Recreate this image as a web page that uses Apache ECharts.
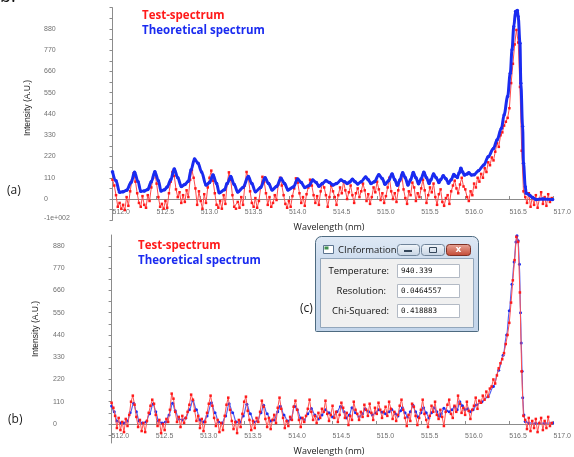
<!DOCTYPE html>
<html><head><meta charset="utf-8">
<script src="https://cdn.jsdelivr.net/npm/echarts@6/dist/echarts.min.js"></script>
<style>html,body{margin:0;padding:0;background:#fff}#c{width:574px;height:457px}</style>
</head><body><div id="c"></div>
<script>
// ---------- data ----------
const wlStart = 512.0, wlStep = 0.02;   // sampling grid of the measured spectrum (nm)

const testTop = [
 100, 70, 20, -40, -20,   -50, -30, -57, 10, -35,   40, 95, 133, 90, 30,   -20, -40, 15, -30, -45,
 20, -10, 60, 110, 133,   80, 10, -40, -25, -50,   -10, -45, 30, 90, 140,   120, 50, 10, 35, -20,
 20, -15, 45, 10, 100,    150, 110, 55, -30, 40,   -10, -50, 25, -20, 60,   110, 147, 95, 30, -30,
 -45, -10, -50, 20, -25,  80, 138, 100, 20, -40,   -50, -15, -45, 10, -30,  70, 140, 110, 40, -20,
 -40, 5, -45, -10, 60,    115, 90, 30, -30, 10,    -40, -20, 20, -5, 75,   110, 70, 20, -25, -45,
 -10, -40, 15, 55, 107,   85, 30, -20, 10, -35,    25, 60, 100, 70, 20,    -20, 15, -30, 40, 80,
 60, 20, -40, 10, 70,     40, 10, -30, 20, 60,     30, 90, 45, 0, 35,      70, 20, -20, 30, 55,
 10, 40, 80, 45, -10,     25, -25, 10, 60, 35,     90, 50, -5, 30, -20,    15, 60, 110, 40, 0,
 30, -15, 45, 95, 124,    50, 5, -25, 40, 20,      85, 60, -10, 30, 10,    55, 100, 45, -20, 20,
 60, 35, 80, 10, -30,     25, 50, -15, -35, 5,     20, -25, 40, 70, 95,    55, 30, 75, 110, 65,
 50, 10, -10, 40, 20,     80, 60, 110, 90, 130,    110, 160, 140, 190, 175, 215, 200, 245, 290, 270,
 330, 345, 380, 400, 420, 470, 600, 700, 800, 875, 810, 580, 250, 40, 10,  -20, 30, -40, 10, -30,
 20, -45, 0, 35, -25,     10, -35, 25, -15, 5
];

const theoryTop = [
 [512.00,141],[512.04,95],[512.08,35],[512.12,38],[512.16,45],[512.21,85],[512.25,138],[512.29,90],[512.32,40],[512.36,42],
 [512.40,50],[512.44,90],[512.48,141],[512.52,95],[512.55,42],[512.59,48],[512.62,62],[512.66,100],[512.70,155],[512.74,110],
 [512.78,65],[512.82,75],[512.86,92],[512.89,150],[512.93,207],[512.97,185],[513.01,140],[513.06,72],[513.10,85],[513.14,124],
 [513.18,80],[513.21,32],[513.27,48],[513.30,80],[513.34,116],[513.38,75],[513.42,36],[513.48,60],[513.54,116],[513.58,80],
 [513.62,38],[513.68,60],[513.73,110],[513.77,80],[513.81,47],[513.86,65],[513.91,107],[513.95,80],[513.99,47],[514.05,62],
 [514.10,104],[514.14,85],[514.18,60],[514.23,70],[514.27,98],[514.31,85],[514.34,66],[514.38,80],[514.42,95],[514.46,85],
 [514.50,72],[514.54,80],[514.59,98],[514.63,90],[514.66,81],[514.69,88],[514.72,102],[514.75,90],[514.78,78],[514.82,90],
 [514.87,114],[514.90,100],[514.93,80],[514.97,90],[515.02,126],[515.06,105],[515.09,76],[515.13,95],[515.17,130],[515.20,100],
 [515.23,71],[515.26,100],[515.29,136],[515.32,110],[515.35,72],[515.38,100],[515.41,137],[515.44,110],[515.47,79],[515.50,105],
 [515.53,139],[515.56,110],[515.59,80],[515.61,100],[515.64,130],[515.67,110],[515.70,86],[515.72,100],[515.75,120],[515.78,105],
 [515.81,82],[515.84,100],[515.87,127],[515.89,118],[515.91,112],[515.93,135],[515.95,159],[515.97,140],[515.99,124],[516.02,130],
 [516.04,136],[516.07,124],[516.10,126],[516.15,147],[516.21,176],[516.26,219],[516.32,262],[516.36,306],[516.41,366],[516.44,435],
 [516.48,530],[516.51,651],[516.53,772],[516.55,893],[516.57,970],[516.59,975],[516.60,944],[516.62,806],[516.63,599],[516.65,375],
 [516.66,185],[516.68,64],[516.69,30],[516.73,20],[516.76,8],[516.80,-2],[516.88,0],[516.99,-3]
];

const testBottom = [
 105, 80, 40, -20, 30,    -30, 10, -40, 25, -10,   45, 110, 140, 95, 35,   -15, 20, -35, 5, -40,
 15, 55, 90, 120, 100,    45, -10, 20, -45, 0,     -30, 25, 10, 70, 150,   125, 60, 10, 35, -15,
 40, 5, 30, 60, 95,       145, 120, 65, 15, 40,    -20, 25, -35, 10, 55,   100, 140, 90, 30, -10,
 20, -40, 5, -30, 40,     95, 130, 70, 15, -25,    10, -45, 20, -15, 50,   110, 135, 65, 20, -30,
 15, -20, 30, 10, 60,     115, 85, 25, -15, 30,    -25, 20, 45, 5, 80,     130, 75, 30, -20, 15,
 -10, 35, 20, 85, 115,    70, 20, -15, 30, 10,     40, 75, 120, 60, 20,    40, 5, 55, 30, 75,
 60, 115, 50, 15, 45,     90, 30, 60, 10, 45,      105, 80, 30, 55, -5,    40, 20, 110, 70, 50,
 20, 60, 35, 95, 70,      40, 100, 55, 20, 80,     50, 105, 70, 30, 60,    85, 40, 110, 75, 25,
 60, 15, 45, 90, 120,     70, 30, -10, 45, 15,     100, 85, 40, -5, 30,    70, 120, 50, 20, -15,
 40, 90, 60, 110, 45,     25, 70, 35, -10, 60,     95, 120, 50, 30, 90,    60, 140, 100, 55, 80,
 45, 110, 65, 25, 70,     90, 130, 75, 115, 105,   140, 120, 160, 135, 175, 185, 220, 200, 240, 275,
 300, 320, 350, 395, 440, 500, 600, 710, 810, 925, 900, 650, 260, 40, 20,  -25, 30, -35, 15, -20,
 25, -40, 5, 30, -30,     15, -20, 35, -10, 5
];

const theoryBottom = [
 [512.00,89],[512.03,60],[512.06,15],[512.10,5],[512.14,5],[512.18,15],[512.21,55],[512.25,102],[512.28,60],[512.31,15],
 [512.35,5],[512.39,10],[512.43,50],[512.47,99],[512.50,60],[512.53,15],[512.57,5],[512.61,10],[512.65,45],[512.69,102],
 [512.72,65],[512.76,25],[512.80,20],[512.84,30],[512.88,70],[512.92,115],[512.96,70],[513.00,20],[513.04,10],[513.08,40],
 [513.13,105],[513.17,55],[513.21,10],[513.25,5],[513.29,40],[513.33,100],[513.37,55],[513.41,10],[513.45,8],[513.49,40],
 [513.53,98],[513.57,50],[513.61,10],[513.65,15],[513.69,55],[513.72,93],[513.76,50],[513.80,15],[513.84,20],[513.88,60],
 [513.91,88],[513.95,45],[513.99,15],[514.03,25],[514.07,88],[514.10,70],[514.14,30],[514.18,20],[514.22,50],[514.26,77],
 [514.30,45],[514.34,25],[514.38,45],[514.42,70],[514.46,55],[514.50,35],[514.55,60],[514.59,86],[514.63,60],[514.66,30],
 [514.69,45],[514.72,80],[514.76,55],[514.80,35],[514.84,50],[514.87,75],[514.91,60],[514.95,45],[514.99,55],[515.02,70],
 [515.06,58],[515.10,50],[515.14,60],[515.17,72],[515.21,50],[515.24,40],[515.27,65],[515.29,80],[515.32,55],[515.35,35],
 [515.38,60],[515.41,92],[515.44,60],[515.47,35],[515.50,55],[515.53,80],[515.56,55],[515.59,30],[515.62,55],[515.65,80],
 [515.68,60],[515.71,38],[515.73,50],[515.76,78],[515.79,65],[515.82,60],[515.85,70],[515.88,85],[515.91,70],[515.94,110],
 [515.97,90],[516.00,70],[516.03,75],[516.06,60],[516.09,70],[516.13,95],[516.19,110],[516.26,135],[516.32,185],[516.38,265],
 [516.43,340],[516.47,440],[516.50,560],[516.53,690],[516.555,800],[516.575,900],[516.587,930],[516.60,905],[516.615,790],[516.627,550],
 [516.635,400],[516.645,260],[516.652,130],[516.665,45],[516.68,12],[516.72,5],[516.80,3],[516.90,4],[516.99,5]
];

const yLabelsTop = [-100, 0, 110, 220, 330, 440, 550, 660, 770, 880];
const yLabelsBottom = [0, 110, 220, 330, 440, 550, 660, 770, 880];
const yMinorTicks = [-110, -55, 0, 55, 110, 165, 220, 275, 330, 385, 440, 495, 550, 605, 660, 715, 770, 825, 880, 935, 990];
const seriesNames = ['Test-spectrum', 'Theoretical spectrum'];
const dialogFields = ['Temperature:', 'Resolution:', 'Chi-Squared:'];
const dialogValues = ['940.339', '0.0464557', '0.418883'];

// ---------- chart ----------
const toPairs = arr => arr.map((v, i) => [+(wlStart + i * wlStep).toFixed(3), v]);
const RED = '#ff1a1a', BLUE = '#1a2bf0';
const FONT = '"Open Sans", "Noto Sans", sans-serif';

function xAxisCfg(gridIndex, margin) {
  return {
    type: 'value', gridIndex, min: 512, max: 517, interval: 0.5,
    axisLine: { onZero: true, lineStyle: { color: '#8c8c8c', width: 1 } },
    axisTick: { inside: true, length: 3, lineStyle: { color: '#8c8c8c' } },
    axisLabel: { inside: true, formatter: v => v.toFixed(1), align: 'left', margin, fontSize: 7,
                 color: '#707070', fontFamily: '"Liberation Sans", Arial, sans-serif' },
    splitLine: { show: false }
  };
}
function yAxisCfg(gridIndex, min, max, labels, margin) {
  return {
    type: 'value', gridIndex, min, max,
    axisLine: { show: true, lineStyle: { color: '#8c8c8c', width: 1 } },
    axisTick: { show: true, length: 3, customValues: yMinorTicks.filter(v => v >= min && v <= max), lineStyle: { color: '#8c8c8c' } },
    axisLabel: { customValues: labels, formatter: v => v === -100 ? '-1e+002' : String(v),
                 align: 'left', margin, fontSize: 7, color: '#707070',
                 fontFamily: '"Liberation Sans", Arial, sans-serif' },
    splitLine: { show: false }
  };
}
function legendCfg(left, top) {
  return {
    orient: 'vertical', left, top, padding: 0, itemGap: 2, itemHeight: 14, itemWidth: 0,
    icon: 'none', selectedMode: false,
    textStyle: { fontWeight: 'bold', fontSize: 11.5, fontFamily: FONT },
    data: [
      { name: seriesNames[0], textStyle: { color: RED } },
      { name: seriesNames[1], textStyle: { color: BLUE } }
    ]
  };
}

function txt(x, y, text, font, opts) {
  return Object.assign({ type: 'text', x, y, z: 100,
    style: { text, font, fill: '#1a1a1a', align: 'left', verticalAlign: 'middle' } }, opts || {});
}

const graphic = [
  { type: 'text', x: 0, y: 6, z: 100, style: { text: 'b.', font: '18px ' + FONT, fill: '#111', align: 'left', verticalAlign: 'bottom' } },
  txt(7, 191, '(a)', '12px ' + FONT),
  txt(8, 420, '(b)', '12px ' + FONT),
  txt(300, 309, '(c)', '12px ' + FONT),
  { type: 'text', x: 28, y: 108, rotation: Math.PI / 2, z: 100,
    style: { text: 'Intensity (A.U.)', font: '8.5px "Liberation Sans", Arial, sans-serif', fill: '#222', align: 'center', verticalAlign: 'middle' } },
  { type: 'text', x: 36, y: 329, rotation: Math.PI / 2, z: 100,
    style: { text: 'Intensity (A.U.)', font: '8.5px "Liberation Sans", Arial, sans-serif', fill: '#222', align: 'center', verticalAlign: 'middle' } },
  { type: 'text', x: 329, y: 227, z: 100,
    style: { text: 'Wavelength (nm)', font: '9px ' + FONT, fill: '#222', align: 'center', verticalAlign: 'middle' } },
  { type: 'text', x: 329, y: 451.5, z: 100,
    style: { text: 'Wavelength (nm)', font: '9px ' + FONT, fill: '#222', align: 'center', verticalAlign: 'middle' } },

  // dialog window (c)
  { type: 'rect', z: 100, shape: { x: 315.5, y: 236.5, width: 163, height: 95, r: [6, 6, 1, 1] },
    style: { fill: { type: 'linear', x: 0, y: 0, x2: 0, y2: 1,
      colorStops: [{ offset: 0, color: '#dfe9f5' }, { offset: 0.25, color: '#cddcee' }, { offset: 1, color: '#c3d5ea' }] },
      stroke: '#4d6a80', lineWidth: 1 } },
  { type: 'rect', z: 101, shape: { x: 320.5, y: 258.5, width: 153, height: 69 },
    style: { fill: '#f0f0f0', stroke: '#92a6bb', lineWidth: 1 } },
  { type: 'rect', z: 101, shape: { x: 323.5, y: 245.5, width: 10, height: 8 },
    style: { fill: '#ffffff', stroke: '#5d7590', lineWidth: 1 } },
  { type: 'rect', z: 102, shape: { x: 324.5, y: 246.5, width: 4, height: 3 }, style: { fill: '#3f8f4f' } },
  txt(338, 250.5, 'CInformation', '9.5px ' + FONT, { z: 101 }),
  { type: 'rect', z: 101, shape: { x: 397.5, y: 244.5, width: 22, height: 11, r: 3 },
    style: { fill: { type: 'linear', x: 0, y: 0, x2: 0, y2: 1, colorStops: [{ offset: 0, color: '#f3f7fb' }, { offset: 1, color: '#c6d3e3' }] },
      stroke: '#6f8399', lineWidth: 1 } },
  { type: 'rect', z: 102, shape: { x: 404, y: 250, width: 8, height: 2 }, style: { fill: '#34465a' } },
  { type: 'rect', z: 101, shape: { x: 421.5, y: 244.5, width: 23, height: 11, r: 3 },
    style: { fill: { type: 'linear', x: 0, y: 0, x2: 0, y2: 1, colorStops: [{ offset: 0, color: '#f3f7fb' }, { offset: 1, color: '#c6d3e3' }] },
      stroke: '#6f8399', lineWidth: 1 } },
  { type: 'rect', z: 102, shape: { x: 429.5, y: 247.5, width: 7, height: 5 }, style: { fill: 'none', stroke: '#34465a', lineWidth: 1 } },
  { type: 'rect', z: 101, shape: { x: 446.5, y: 244.5, width: 24, height: 11, r: 3 },
    style: { fill: { type: 'linear', x: 0, y: 0, x2: 0, y2: 1, colorStops: [{ offset: 0, color: '#e9a99b' }, { offset: 1, color: '#c24631' }] },
      stroke: '#7d3024', lineWidth: 1 } },
  { type: 'text', z: 102, x: 458.5, y: 250,
    style: { text: 'x', font: 'bold 9px "DejaVu Sans", sans-serif', fill: '#ffffff', align: 'center', verticalAlign: 'middle' } }
];
dialogFields.forEach((f, i) => {
  const cy = 271 + i * 20;
  graphic.push({ type: 'text', z: 101, x: i === 1 ? 386 : 389, y: cy,
    style: { text: f, font: '9.5px ' + FONT, fill: '#111', align: 'right', verticalAlign: 'middle' } });
  graphic.push({ type: 'rect', z: 101, shape: { x: 397.5, y: cy - 6.5, width: 62, height: 13 },
    style: { fill: '#ffffff', stroke: '#b3bac5', lineWidth: 1 } });
  graphic.push({ type: 'text', z: 102, x: 401, y: cy,
    style: { text: dialogValues[i], font: '7.5px "DejaVu Sans Mono", monospace', fill: '#111', align: 'left', verticalAlign: 'middle' } });
});

const chart = echarts.init(document.getElementById('c'), null, { renderer: 'canvas' });
chart.setOption({
  animation: false,
  backgroundColor: '#ffffff',
  grid: [
    { left: 112.5, right: 13, top: 7.7, height: 212.6 },
    { left: 111.6, right: 19, top: 235, height: 208 }
  ],
  xAxis: [xAxisCfg(0, 4.8), xAxisCfg(1, 3.5)],
  yAxis: [
    yAxisCfg(0, -110, 990, yLabelsTop, 68.5),
    yAxisCfg(1, -94, 934, yLabelsBottom, 58.6)
  ],
  legend: [legendCfg(137, 8.7), legendCfg(133, 238.7)],
  series: [
    { name: seriesNames[0], type: 'line', xAxisIndex: 0, yAxisIndex: 0, data: toPairs(testTop),
      symbol: 'rect', symbolSize: 2.5, showAllSymbol: true, z: 2,
      itemStyle: { color: RED }, lineStyle: { color: '#ff4a4a', width: 1 } },
    { name: seriesNames[1], type: 'line', xAxisIndex: 0, yAxisIndex: 0, data: theoryTop,
      smooth: 0.35, smoothMonotone: 'x', symbol: 'circle', symbolSize: 3.5, showAllSymbol: true, z: 3,
      itemStyle: { color: BLUE }, lineStyle: { color: BLUE, width: 3 } },
    { name: seriesNames[1], type: 'line', xAxisIndex: 1, yAxisIndex: 1, data: theoryBottom,
      smooth: 0.35, smoothMonotone: 'x', symbol: 'circle', symbolSize: 3, showAllSymbol: true, z: 2,
      itemStyle: { color: BLUE }, lineStyle: { color: '#5560f0', width: 1.2 } },
    { name: seriesNames[0], type: 'line', xAxisIndex: 1, yAxisIndex: 1, data: toPairs(testBottom),
      symbol: 'rect', symbolSize: 2.5, showAllSymbol: true, z: 3,
      itemStyle: { color: RED }, lineStyle: { color: '#ff5050', width: 1 } }
  ],
  graphic
});
</script>
</body></html>
